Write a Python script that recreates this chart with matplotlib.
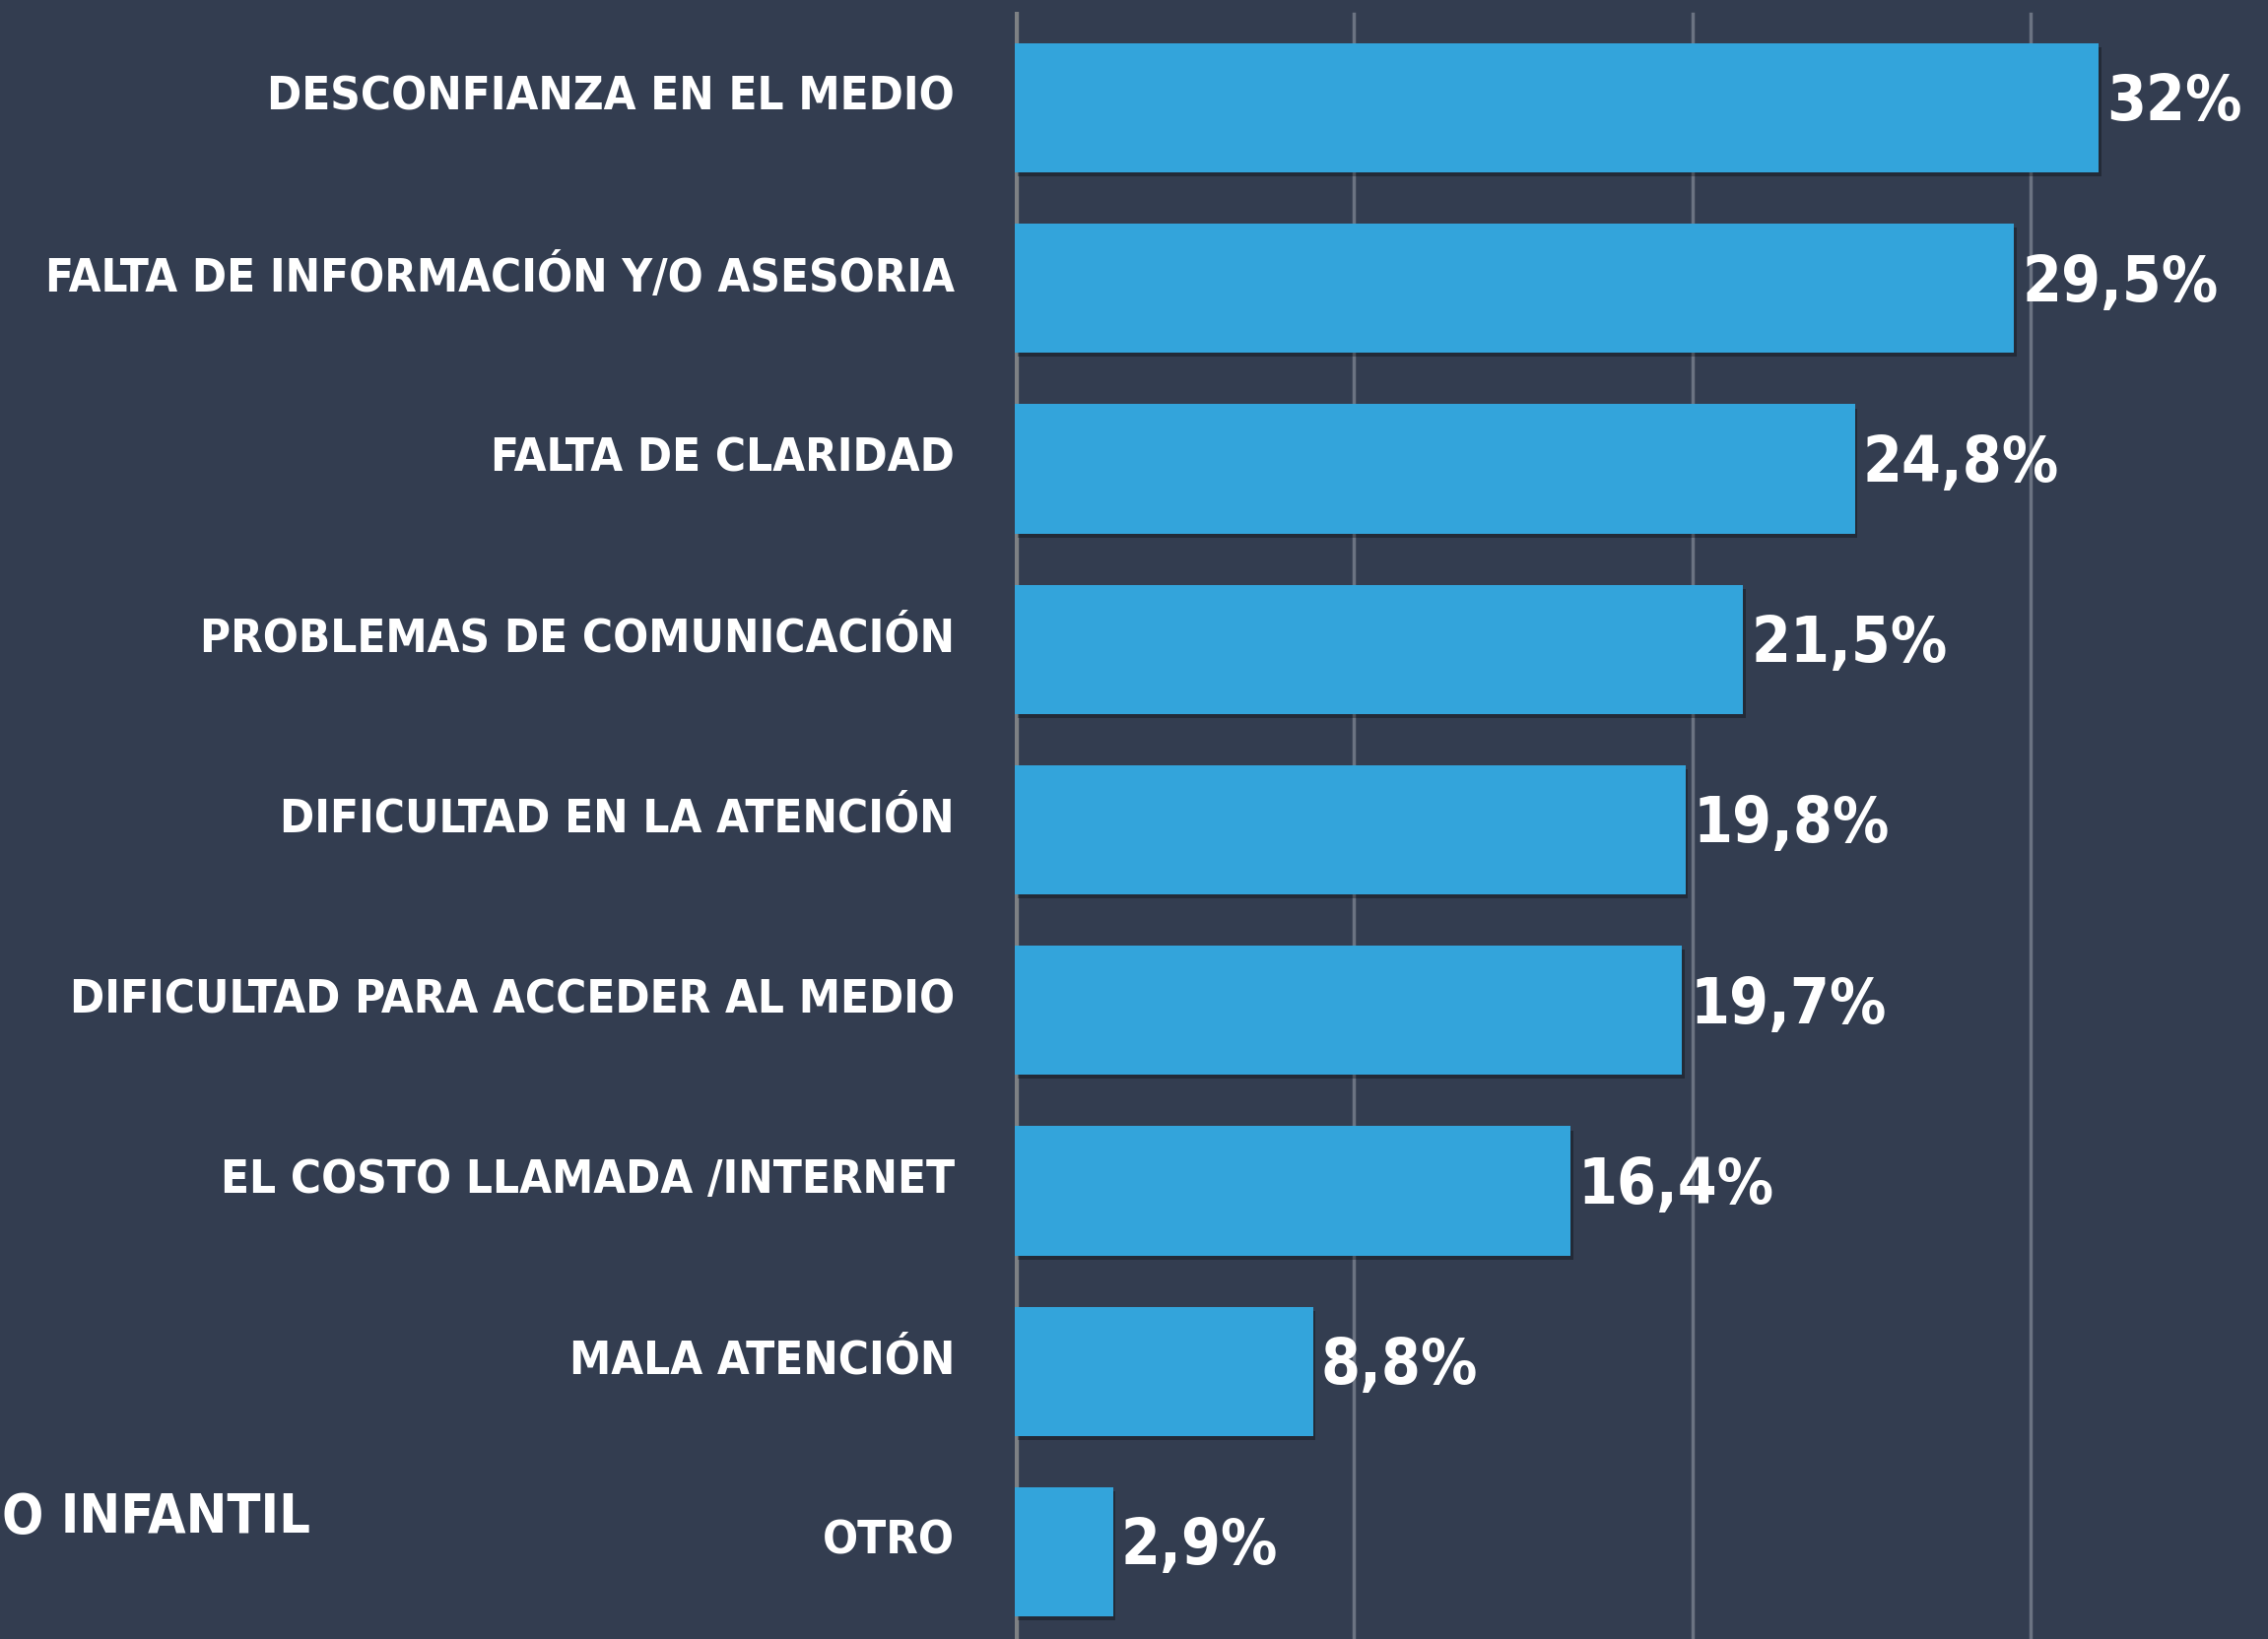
import matplotlib
matplotlib.use('Agg')
import matplotlib.pyplot as plt
import matplotlib.patheffects as pe
from matplotlib import font_manager

# Datos
categorias = ['DESCONFIANZA EN EL MEDIO',
              'FALTA DE INFORMACIÓN Y/O ASESORIA',
              'FALTA DE CLARIDAD',
              'PROBLEMAS DE COMUNICACIÓN',
              'DIFICULTAD EN LA ATENCIÓN',
              'DIFICULTAD PARA ACCEDER AL MEDIO',
              'EL COSTO LLAMADA /INTERNET',
              'MALA ATENCIÓN',
              'OTRO']
valores = [32, 29.5, 24.8, 21.5, 19.8, 19.7, 16.4, 8.8, 2.9]
etiquetas = ['32%', '29,5%', '24,8%', '21,5%', '19,8%', '19,7%', '16,4%', '8,8%', '2,9%']
ticks_x = [10, 20, 30]

fondo = '#333d50'
azul = '#33a4db'

# Buscar una fuente estrecha
nombres = {f.name for f in font_manager.fontManager.ttflist}
if 'Liberation Sans Narrow' in nombres:
    fuente = dict(family='Liberation Sans Narrow', weight='bold')
else:
    fuente = dict(family='DejaVu Sans', stretch='condensed', weight='bold')

fig = plt.figure(figsize=(23.02, 16.64), dpi=100, facecolor=fondo)
ax = fig.add_axes([1030 / 2302, 0, 1 - 1030 / 2302, 1 - 12 / 1664])
ax.set_facecolor(fondo)

y = list(range(len(categorias)))
barras = ax.barh(y, valores, height=0.715, color=azul, zorder=3)
for b in barras:
    b.set_path_effects([pe.SimplePatchShadow(offset=(2, -3), shadow_rgbFace='black', alpha=0.3),
                        pe.Normal()])

ax.set_xlim(0, 37)
ax.set_ylim(8.483, -0.532)

# Lineas de grilla
for t in ticks_x:
    ax.axvline(t, ymax=1 - 2 / 1652, color='#6b7382', lw=2.5, zorder=1)
ax.axvline(0, color='#7e8184', lw=6, zorder=2)

for s in ax.spines.values():
    s.set_visible(False)
ax.set_xticks([])
ax.set_yticks([])

# Textos de categorias
for i, c in enumerate(categorias):
    ax.annotate(c, xy=(0, i), xycoords=('axes fraction', 'data'),
                xytext=(-61, 10), textcoords='offset pixels',
                ha='right', va='center', color='white', fontsize=34, **fuente)

# Valores
for i, (v, e) in enumerate(zip(valores, etiquetas)):
    ax.annotate(e, xy=(v, i), xytext=(8, 5), textcoords='offset pixels',
                ha='left', va='center', color='white', fontsize=46, **fuente)

# Texto cortado de otra lamina
fig.text(2 / 2302, 1 - 1541 / 1664, 'O INFANTIL', ha='left', va='center',
         color='white', fontsize=40, **fuente)

fig.savefig('out.png', dpi=100, facecolor=fondo)
